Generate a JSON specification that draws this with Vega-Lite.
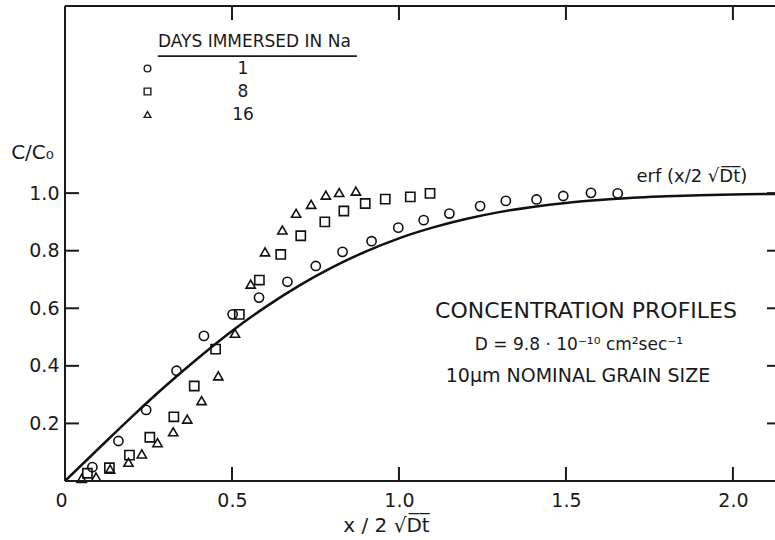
{
  "$schema": "https://vega.github.io/schema/vega-lite/v6.json",
  "width": 710,
  "height": 475,
  "autosize": {"type": "none"},
  "padding": {"left": 65, "top": 6, "right": 0, "bottom": 59},
  "background": "white",
  "resolve": {"axis": {"x": "independent", "y": "independent"}},
  "config": {
    "view": {"stroke": null},
    "font": "DejaVu Sans",
    "axis": {
      "grid": false,
      "domain": false,
      "ticks": false,
      "tickSize": 0,
      "labelColor": "#1a1a1a",
      "labelFont": "DejaVu Sans",
      "labelFontSize": 19,
      "titleColor": "#1a1a1a",
      "titleFont": "DejaVu Sans",
      "titleFontWeight": "normal",
      "titleFontSize": 20
    }
  },
  "datasets": {
    "frame": [
      {"edge": "bottom", "u": 0, "u2": 2.126, "c": 0, "c2": 0},
      {"edge": "top", "u": 0, "u2": 2.126, "c": 1.65, "c2": 1.65},
      {"edge": "left", "u": 0, "u2": 0, "c": 0, "c2": 1.65}
    ],
    "xticks": [
      {"edge": "bottom", "u": 0.5, "c": 0},
      {"edge": "bottom", "u": 1.0, "c": 0},
      {"edge": "bottom", "u": 1.5, "c": 0},
      {"edge": "bottom", "u": 2.0, "c": 0},
      {"edge": "top", "u": 0.5, "c": 1.65},
      {"edge": "top", "u": 1.0, "c": 1.65},
      {"edge": "top", "u": 1.5, "c": 1.65},
      {"edge": "top", "u": 2.0, "c": 1.65}
    ],
    "yticks": [
      {"edge": "left", "u": 0, "c": 0.2},
      {"edge": "left", "u": 0, "c": 0.4},
      {"edge": "left", "u": 0, "c": 0.6},
      {"edge": "left", "u": 0, "c": 0.8},
      {"edge": "left", "u": 0, "c": 1.0},
      {"edge": "right", "u": 2.126, "c": 0.2},
      {"edge": "right", "u": 2.126, "c": 0.4},
      {"edge": "right", "u": 2.126, "c": 0.6},
      {"edge": "right", "u": 2.126, "c": 0.8},
      {"edge": "right", "u": 2.126, "c": 1.0}
    ],
    "erf": [
      {"u": 0.0, "c": 0.0},
      {"u": 0.1, "c": 0.112},
      {"u": 0.2, "c": 0.223},
      {"u": 0.3, "c": 0.329},
      {"u": 0.4, "c": 0.428},
      {"u": 0.5, "c": 0.521},
      {"u": 0.6, "c": 0.604},
      {"u": 0.7, "c": 0.678},
      {"u": 0.8, "c": 0.742},
      {"u": 0.9, "c": 0.797},
      {"u": 1.0, "c": 0.843},
      {"u": 1.1, "c": 0.880},
      {"u": 1.2, "c": 0.910},
      {"u": 1.3, "c": 0.934},
      {"u": 1.4, "c": 0.952},
      {"u": 1.5, "c": 0.966},
      {"u": 1.6, "c": 0.976},
      {"u": 1.7, "c": 0.984},
      {"u": 1.8, "c": 0.989},
      {"u": 1.9, "c": 0.993},
      {"u": 2.0, "c": 0.995},
      {"u": 2.1, "c": 0.997},
      {"u": 2.2, "c": 0.998}
    ],
    "profiles": [
      {"days": "1", "u": 0.082, "c": 0.048},
      {"days": "1", "u": 0.160, "c": 0.139},
      {"days": "1", "u": 0.243, "c": 0.247},
      {"days": "1", "u": 0.334, "c": 0.383},
      {"days": "1", "u": 0.416, "c": 0.504},
      {"days": "1", "u": 0.502, "c": 0.579},
      {"days": "1", "u": 0.581, "c": 0.637},
      {"days": "1", "u": 0.666, "c": 0.692},
      {"days": "1", "u": 0.751, "c": 0.747},
      {"days": "1", "u": 0.831, "c": 0.796},
      {"days": "1", "u": 0.918, "c": 0.833},
      {"days": "1", "u": 0.998, "c": 0.880},
      {"days": "1", "u": 1.074, "c": 0.906},
      {"days": "1", "u": 1.151, "c": 0.929},
      {"days": "1", "u": 1.243, "c": 0.955},
      {"days": "1", "u": 1.320, "c": 0.973},
      {"days": "1", "u": 1.412, "c": 0.978},
      {"days": "1", "u": 1.492, "c": 0.990},
      {"days": "1", "u": 1.575, "c": 1.001},
      {"days": "1", "u": 1.655, "c": 0.999},
      {"days": "8", "u": 0.067, "c": 0.027},
      {"days": "8", "u": 0.133, "c": 0.046},
      {"days": "8", "u": 0.193, "c": 0.090},
      {"days": "8", "u": 0.254, "c": 0.152},
      {"days": "8", "u": 0.326, "c": 0.223},
      {"days": "8", "u": 0.387, "c": 0.330},
      {"days": "8", "u": 0.451, "c": 0.458},
      {"days": "8", "u": 0.522, "c": 0.579},
      {"days": "8", "u": 0.582, "c": 0.698},
      {"days": "8", "u": 0.646, "c": 0.787},
      {"days": "8", "u": 0.706, "c": 0.852},
      {"days": "8", "u": 0.778, "c": 0.900},
      {"days": "8", "u": 0.835, "c": 0.938},
      {"days": "8", "u": 0.899, "c": 0.964},
      {"days": "8", "u": 0.959, "c": 0.979},
      {"days": "8", "u": 1.034, "c": 0.987},
      {"days": "8", "u": 1.093, "c": 0.999},
      {"days": "16", "u": 0.050, "c": 0.009},
      {"days": "16", "u": 0.093, "c": 0.014},
      {"days": "16", "u": 0.135, "c": 0.041},
      {"days": "16", "u": 0.190, "c": 0.065},
      {"days": "16", "u": 0.230, "c": 0.094},
      {"days": "16", "u": 0.277, "c": 0.133},
      {"days": "16", "u": 0.324, "c": 0.171},
      {"days": "16", "u": 0.366, "c": 0.215},
      {"days": "16", "u": 0.409, "c": 0.279},
      {"days": "16", "u": 0.459, "c": 0.365},
      {"days": "16", "u": 0.509, "c": 0.513},
      {"days": "16", "u": 0.556, "c": 0.684},
      {"days": "16", "u": 0.599, "c": 0.796},
      {"days": "16", "u": 0.651, "c": 0.872},
      {"days": "16", "u": 0.692, "c": 0.930},
      {"days": "16", "u": 0.737, "c": 0.961},
      {"days": "16", "u": 0.781, "c": 0.993},
      {"days": "16", "u": 0.821, "c": 1.002},
      {"days": "16", "u": 0.871, "c": 1.007}
    ],
    "notes": [
      {"kind": "heading", "u": 1.560, "c": 0.590, "text": "CONCENTRATION PROFILES"},
      {"kind": "constant", "u": 1.539, "c": 0.472, "text": "D = 9.8 · 10⁻¹⁰ cm²sec⁻¹"},
      {"kind": "grain", "u": 1.536, "c": 0.365, "text": "10μm NOMINAL GRAIN SIZE"},
      {"kind": "curve", "u": 1.877, "c": 1.056, "text": "erf (x/2 √D̅t̅)"}
    ],
    "underline": [
      {"u": 0.278, "u2": 0.874, "c": 1.476}
    ]
  },
  "layer": [
    {
      "data": {"name": "erf"},
      "mark": {"type": "line", "color": "#111111", "strokeWidth": 2.5, "interpolate": "monotone", "clip": true},
      "encoding": {
        "x": {
          "field": "u",
          "type": "quantitative",
          "scale": {"domain": [0, 2.126], "nice": false, "zero": false},
          "axis": {
            "orient": "bottom",
            "values": [0, 0.5, 1, 1.5, 2],
            "labelExpr": "datum.value === 0 ? '0' : format(datum.value, '.1f')",
            "labelOffset": {"condition": {"test": "datum.value === 0", "value": -10}, "value": 0},
            "labelPadding": 10,
            "title": "x / 2 √D̅t̅",
            "titleX": 321,
            "titleY": 44,
            "titleAlign": "center",
            "titleBaseline": "middle"
          }
        },
        "y": {
          "field": "c",
          "type": "quantitative",
          "scale": {"domain": [0, 1.65], "nice": false},
          "axis": {
            "orient": "left",
            "values": [0.2, 0.4, 0.6, 0.8, 1.0],
            "format": ".1f",
            "labelPadding": 6,
            "title": "C/C₀",
            "titleAngle": 0,
            "titleX": -33,
            "titleY": 146,
            "titleAlign": "center",
            "titleBaseline": "middle"
          }
        }
      }
    },
    {
      "data": {"name": "profiles"},
      "mark": {"type": "point", "filled": false, "color": "#111111", "strokeWidth": 1.6, "size": 85, "opacity": 1},
      "encoding": {
        "x": {"field": "u", "type": "quantitative", "axis": null},
        "y": {"field": "c", "type": "quantitative", "axis": null},
        "shape": {
          "field": "days",
          "type": "nominal",
          "scale": {"domain": ["1", "8", "16"], "range": ["circle", "square", "triangle-up"]},
          "legend": {
            "title": "DAYS IMMERSED IN Na",
            "orient": "none",
            "legendX": 93,
            "legendY": 28,
            "padding": 0,
            "titleFont": "DejaVu Sans",
            "titleFontSize": 17,
            "titleFontWeight": "normal",
            "titleColor": "#1a1a1a",
            "titleLimit": 400,
            "titlePadding": 9,
            "labelFont": "DejaVu Sans",
            "labelFontSize": 17,
            "labelColor": "#1a1a1a",
            "labelAlign": "center",
            "labelOffset": 87,
            "symbolOffset": -19,
            "symbolSize": 45,
            "symbolStrokeWidth": 1.4,
            "symbolStrokeColor": "#1a1a1a",
            "rowPadding": 5
          }
        }
      }
    },
    {
      "data": {"name": "notes"},
      "transform": [{"filter": "datum.kind === 'heading'"}],
      "mark": {"type": "text", "font": "DejaVu Sans", "fontSize": 22, "color": "#1a1a1a", "align": "center", "baseline": "middle"},
      "encoding": {
        "x": {"field": "u", "type": "quantitative", "axis": null},
        "y": {"field": "c", "type": "quantitative", "axis": null},
        "text": {"field": "text"}
      }
    },
    {
      "data": {"name": "notes"},
      "transform": [{"filter": "datum.kind === 'grain'"}],
      "mark": {"type": "text", "font": "DejaVu Sans", "fontSize": 19, "color": "#1a1a1a", "align": "center", "baseline": "middle"},
      "encoding": {
        "x": {"field": "u", "type": "quantitative", "axis": null},
        "y": {"field": "c", "type": "quantitative", "axis": null},
        "text": {"field": "text"}
      }
    },
    {
      "data": {"name": "notes"},
      "transform": [{"filter": "datum.kind === 'constant'"}],
      "mark": {"type": "text", "font": "DejaVu Sans", "fontSize": 17, "color": "#1a1a1a", "align": "center", "baseline": "middle"},
      "encoding": {
        "x": {"field": "u", "type": "quantitative", "axis": null},
        "y": {"field": "c", "type": "quantitative", "axis": null},
        "text": {"field": "text"}
      }
    },
    {
      "data": {"name": "notes"},
      "transform": [{"filter": "datum.kind === 'curve'"}],
      "mark": {"type": "text", "font": "DejaVu Sans", "fontSize": 18, "color": "#1a1a1a", "align": "center", "baseline": "middle"},
      "encoding": {
        "x": {"field": "u", "type": "quantitative", "axis": null},
        "y": {"field": "c", "type": "quantitative", "axis": null},
        "text": {"field": "text"}
      }
    },
    {
      "data": {"name": "underline"},
      "mark": {"type": "rule", "color": "#1a1a1a", "strokeWidth": 1.6},
      "encoding": {
        "x": {"field": "u", "type": "quantitative", "axis": null},
        "x2": {"field": "u2"},
        "y": {"field": "c", "type": "quantitative", "axis": null}
      }
    },
    {
      "data": {"name": "frame"},
      "mark": {"type": "rule", "color": "#1a1a1a", "strokeWidth": 2},
      "encoding": {
        "x": {"field": "u", "type": "quantitative", "axis": null},
        "x2": {"field": "u2"},
        "y": {"field": "c", "type": "quantitative", "axis": null},
        "y2": {"field": "c2"}
      }
    },
    {
      "data": {"name": "xticks"},
      "mark": {"type": "tick", "orient": "vertical", "size": 28, "thickness": 2, "color": "#1a1a1a", "opacity": 1, "clip": true},
      "encoding": {
        "x": {"field": "u", "type": "quantitative", "axis": null},
        "y": {"field": "c", "type": "quantitative", "axis": null}
      }
    },
    {
      "data": {"name": "yticks"},
      "transform": [{"filter": "datum.edge === 'left'"}],
      "mark": {"type": "tick", "orient": "horizontal", "size": 28, "thickness": 2, "color": "#1a1a1a", "opacity": 1, "clip": true},
      "encoding": {
        "x": {"field": "u", "type": "quantitative", "axis": null},
        "y": {"field": "c", "type": "quantitative", "axis": null}
      }
    },
    {
      "data": {"name": "yticks"},
      "transform": [{"filter": "datum.edge === 'right'"}],
      "mark": {"type": "tick", "orient": "horizontal", "size": 16, "thickness": 2, "color": "#1a1a1a", "opacity": 1, "clip": true},
      "encoding": {
        "x": {"field": "u", "type": "quantitative", "axis": null},
        "y": {"field": "c", "type": "quantitative", "axis": null}
      }
    }
  ]
}
